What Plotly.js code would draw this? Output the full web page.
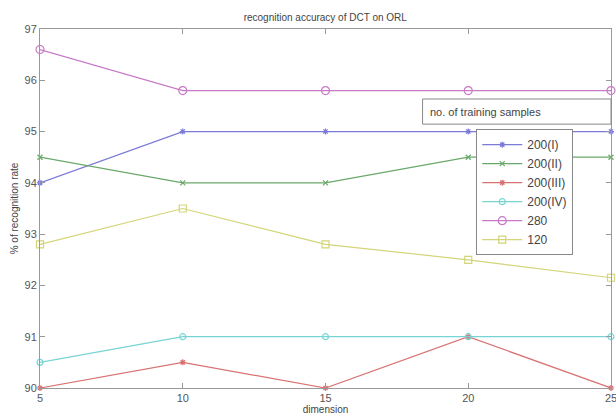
<!DOCTYPE html>
<html>
<head>
<meta charset="utf-8">
<script src="https://cdn.plot.ly/plotly-3.0.1.min.js"></script>
<style>html,body{margin:0;padding:0;background:#fff;overflow:hidden;}#chart{width:616px;height:416px;}</style>
</head>
<body>
<div id="chart"></div>
<script>
const dimension = [5, 10, 15, 20, 25];
const s200I   = [94, 95, 95, 95, 95];
const s200II  = [94.5, 94, 94, 94.5, 94.5];
const s200III = [90, 90.5, 90, 91, 90];
const s200IV  = [90.5, 91, 91, 91, 91];
const s280    = [96.6, 95.8, 95.8, 95.8, 95.8];
const s120    = [92.8, 93.5, 92.8, 92.5, 92.15];
const seriesNames = ["200(I)", "200(II)", "200(III)", "200(IV)", "280", "120"];
const xTicks = [5, 10, 15, 20, 25];
const yTicks = [90, 91, 92, 93, 94, 95, 96, 97];

const styles = [
  {c: "#7a7ad8", sym: "asterisk-open", size: 5},
  {c: "#6aa86a", sym: "x-thin-open", size: 5},
  {c: "#d87272", sym: "asterisk-open", size: 5},
  {c: "#78d4d4", sym: "circle-open", size: 6},
  {c: "#c87ac8", sym: "circle-open", size: 8},
  {c: "#d4d47a", sym: "square-open", size: 7}
];
const data = [s200I, s200II, s200III, s200IV, s280, s120];
const traces = data.map((y, i) => ({
  x: dimension, y: y, name: seriesNames[i], type: "scatter", mode: "lines+markers",
  line: {color: styles[i].c, width: 1.2},
  marker: {color: styles[i].c, symbol: styles[i].sym, size: styles[i].size, line: {color: styles[i].c, width: 1.2}},
  cliponaxis: false
}));

const font = "Liberation Sans, Arial, sans-serif";
const layout = {
  width: 616, height: 416,
  margin: {l: 40, r: 5, t: 29, b: 28},
  paper_bgcolor: "#fff", plot_bgcolor: "#fff",
  font: {family: font, color: "#555", size: 11},
  title: {text: "recognition accuracy of DCT on ORL", font: {size: 10, color: "#444"}, x: 0.528, xanchor: "center", y: 0.958, yanchor: "middle"},
  xaxis: {
    range: [5, 25], tickvals: xTicks, ticks: "inside", ticklen: 5, tickcolor: "#999",
    showgrid: false, zeroline: false, showline: true, linecolor: "#999", linewidth: 1, mirror: "ticks",
    tickfont: {size: 11, color: "#555"}, automargin: false, ticklabeloverflow: "allow",
    title: {text: "dimension", font: {size: 10, color: "#444"}, standoff: 2}
  },
  yaxis: {
    range: [90, 97], tickvals: yTicks, ticks: "inside", ticklen: 5, tickcolor: "#999",
    showgrid: false, zeroline: false, showline: true, linecolor: "#999", linewidth: 1, mirror: "ticks",
    tickfont: {size: 11, color: "#555"}, automargin: false, ticklabeloverflow: "allow",
    title: {text: "% of recognition rate", font: {size: 10, color: "#444"}, standoff: 4}
  },
  legend: {
    x: 0.764, xanchor: "left", y: 0.721, yanchor: "top",
    bgcolor: "#fff", bordercolor: "#888", borderwidth: 1,
    font: {size: 12, color: "#444"}, itemwidth: 40, tracegroupgap: 0
  },
  shapes: [{
    type: "rect", xref: "paper", yref: "paper", x0: 0.67, x1: 1.0, y0: 0.735, y1: 0.805,
    line: {color: "#888", width: 1}, fillcolor: "#fff", layer: "above"
  }],
  annotations: [{
    text: "no. of training samples", xref: "paper", yref: "paper", x: 0.68, y: 0.770,
    xanchor: "left", yanchor: "middle", showarrow: false, font: {size: 11, color: "#444"}
  }]
};
Plotly.newPlot("chart", traces, layout, {displayModeBar: false, staticPlot: true});
</script>
</body>
</html>
